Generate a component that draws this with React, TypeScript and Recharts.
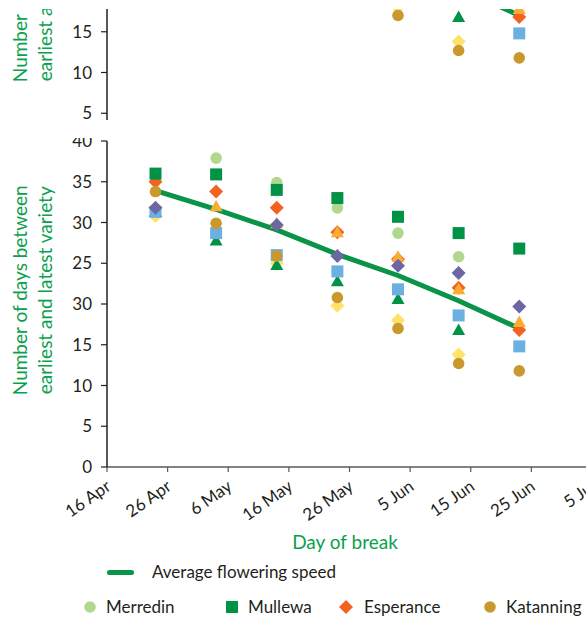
import React from 'react';
import { ComposedChart, Scatter, Line, XAxis, YAxis } from 'recharts';

// days after 16 Apr on which the season broke
const breakDays = [8, 18, 28, 38, 48, 58, 68];

const xTickDays = [0, 10, 20, 30, 40, 50, 60, 70, 80];
const xTickLabels = ['16 Apr', '26 Apr', '6 May', '16 May', '26 May', '5 Jun', '15 Jun', '25 Jun', '5 Jul'];
const yTicks = [0, 5, 10, 15, 20, 25, 30, 35, 40];
const yTickLabels = ['0', '5', '10', '15', '30', '25', '30', '35', '40'];

const averageSpeed = [33.9, 31.6, 29.1, 26.1, 23.5, 20.4, 17.0];

const merredin = [31.4, 37.9, 34.9, 31.8, 28.7, 25.8, null];
const mullewa = [36, 35.9, 34, 33, 30.7, 28.7, 26.8];
const esperance = [35, 33.8, 31.8, 28.8, 25.5, 22.0, 16.8];
const katanning = [33.8, 29.9, 25.9, 20.8, 17, 12.7, 11.8];
const blueSquare = [31.3, 28.7, 26, 24, 21.8, 18.6, 14.8];
const greenTriangle = [31.3, 27.8, 24.8, 22.8, 20.6, 16.8, null];
const purpleDiamond = [31.8, null, 29.7, 25.9, 24.7, 23.8, 19.7];
const yellowDiamond = [30.8, null, 25, 19.8, 18, 13.8, null];
const orangeTriangle = [null, 32, 29.9, 28.8, 25.8, 21.8, 17.8];

const GREEN = '#0a9447';
const TITLE = '#0aa14e';
const INK = '#231f20';

type Kind = 'circle' | 'square' | 'diamond' | 'triangle';

const toPoints = (values: (number | null)[]) =>
  values
    .map((v, i) => ({ day: breakDays[i], value: v }))
    .filter((d) => d.value !== null);

// bottom-to-top drawing order
const series: { key: string; values: (number | null)[]; kind: Kind; color: string }[] = [
  { key: 'yellowDiamond', values: yellowDiamond, kind: 'diamond', color: '#ffe26a' },
  { key: 'merredin', values: merredin, kind: 'circle', color: '#b2d88f' },
  { key: 'esperance', values: esperance, kind: 'diamond', color: '#f26322' },
  { key: 'greenTriangle', values: greenTriangle, kind: 'triangle', color: '#009245' },
  { key: 'blueSquare', values: blueSquare, kind: 'square', color: '#6cb0e2' },
  { key: 'katanning', values: katanning, kind: 'circle', color: '#c9992d' },
  { key: 'orangeTriangle', values: orangeTriangle, kind: 'triangle', color: '#fbad33' },
  { key: 'purpleDiamond', values: purpleDiamond, kind: 'diamond', color: '#6c66a3' },
  { key: 'mullewa', values: mullewa, kind: 'square', color: '#009245' },
];

function markerPath(kind: Kind, cx: number, cy: number, color: string) {
  if (kind === 'circle') return <circle cx={cx} cy={cy} r={5.8} fill={color} />;
  if (kind === 'square') return <rect x={cx - 6} y={cy - 6} width={12} height={12} fill={color} />;
  if (kind === 'diamond')
    return <polygon points={`${cx},${cy - 7} ${cx + 7},${cy} ${cx},${cy + 7} ${cx - 7},${cy}`} fill={color} />;
  return <polygon points={`${cx},${cy - 6.5} ${cx + 6.5},${cy + 5} ${cx - 6.5},${cy + 5}`} fill={color} />;
}

const makeShape = (kind: Kind, color: string) => (props: any) => {
  const { cx, cy } = props;
  if (cx == null || cy == null) return <g />;
  return markerPath(kind, cx, cy, color);
};

const XTick = (props: any) => {
  const { x, y, payload } = props;
  const label = xTickLabels[xTickDays.indexOf(payload.value)];
  return (
    <g transform={`translate(${x + 5},${y + 15})`}>
      <text textAnchor="end" transform="rotate(-35)" fontSize={17} fill={INK}>
        {label}
      </text>
    </g>
  );
};

const yTitle = (props: any) => {
  const { viewBox } = props;
  const cy = viewBox.y + viewBox.height / 2 - 13.7;
  return (
    <g fill={TITLE} fontSize={19}>
      <text x={27} y={cy} textAnchor="middle" transform={`rotate(-90, 27, ${cy})`}>
        Number of days between
      </text>
      <text x={52} y={cy} textAnchor="middle" transform={`rotate(-90, 52, ${cy})`}>
        earliest and latest variety
      </text>
    </g>
  );
};

const xTitle = (props: any) => {
  const { viewBox } = props;
  return (
    <text x={345} y={viewBox.y + 82} textAnchor="middle" fill={TITLE} fontSize={19}>
      Day of break
    </text>
  );
};

function BreakChart() {
  return (
    <ComposedChart width={600} height={446} margin={{ top: 20, right: 8, bottom: 0, left: 47 }}>
      <XAxis
        type="number"
        dataKey="day"
        domain={[0, 80]}
        ticks={xTickDays}
        interval={0}
        height={100}
        tickSize={5}
        tick={<XTick />}
        axisLine={{ stroke: '#58595b', strokeWidth: 1.5 }}
        tickLine={{ stroke: '#58595b', strokeWidth: 1.2 }}
        label={xTitle}
      />
      <YAxis
        type="number"
        dataKey="value"
        domain={[0, 40]}
        ticks={yTicks}
        interval={0}
        width={60}
        tickSize={6}
        tickMargin={9}
        tickFormatter={(v: number) => yTickLabels[yTicks.indexOf(v)]}
        tick={{ fontSize: 17, fill: INK }}
        axisLine={{ stroke: INK, strokeWidth: 1.5 }}
        tickLine={{ stroke: INK, strokeWidth: 1.2 }}
        label={yTitle}
      />
      <Line
        data={toPoints(averageSpeed)}
        dataKey="value"
        stroke={GREEN}
        strokeWidth={5}
        dot={false}
        activeDot={false}
        isAnimationActive={false}
      />
      {series.map((s) => (
        <Scatter
          key={s.key}
          data={toPoints(s.values)}
          dataKey="value"
          shape={makeShape(s.kind, s.color)}
          isAnimationActive={false}
        />
      ))}
    </ComposedChart>
  );
}

const legendRow = [
  { label: 'Merredin', kind: 'circle' as Kind, color: '#b2d88f', icon: 90, text: 106 },
  { label: 'Mullewa', kind: 'square' as Kind, color: '#009245', icon: 232, text: 248 },
  { label: 'Esperance', kind: 'diamond' as Kind, color: '#f26322', icon: 346, text: 364 },
  { label: 'Katanning', kind: 'circle' as Kind, color: '#c9992d', icon: 490, text: 506 },
];

export default function App() {
  return (
    <div
      style={{
        position: 'fixed',
        top: 0,
        left: 0,
        width: 586,
        height: 619,
        overflow: 'hidden',
        background: '#fff',
        fontFamily: 'Lato, sans-serif',
      }}
    >
      <div style={{ position: 'absolute', top: 9, left: 0, width: 586, height: 111, overflow: 'hidden' }}>
        <div style={{ position: 'absolute', top: -201, left: 0 }}>
          <BreakChart />
        </div>
      </div>
      <div style={{ position: 'absolute', top: 138, left: 0, width: 586, height: 481, overflow: 'hidden' }}>
        <div style={{ position: 'absolute', top: -17.3, left: 0 }}>
          <BreakChart />
        </div>
      </div>
      <div
        style={{ position: 'absolute', left: 107, top: 570, width: 27, height: 5, borderRadius: 3, background: GREEN }}
      />
      <div style={{ position: 'absolute', left: 152, top: 561, fontSize: 17, lineHeight: '22px', color: INK }}>
        Average flowering speed
      </div>
      {legendRow.map((l) => (
        <React.Fragment key={l.label}>
          <svg style={{ position: 'absolute', left: l.icon - 8, top: 599 }} width={16} height={16}>
            {markerPath(l.kind, 8, 8, l.color)}
          </svg>
          <div style={{ position: 'absolute', left: l.text, top: 596, fontSize: 17, lineHeight: '22px', color: INK, whiteSpace: 'nowrap' }}>
            {l.label}
          </div>
        </React.Fragment>
      ))}
    </div>
  );
}
